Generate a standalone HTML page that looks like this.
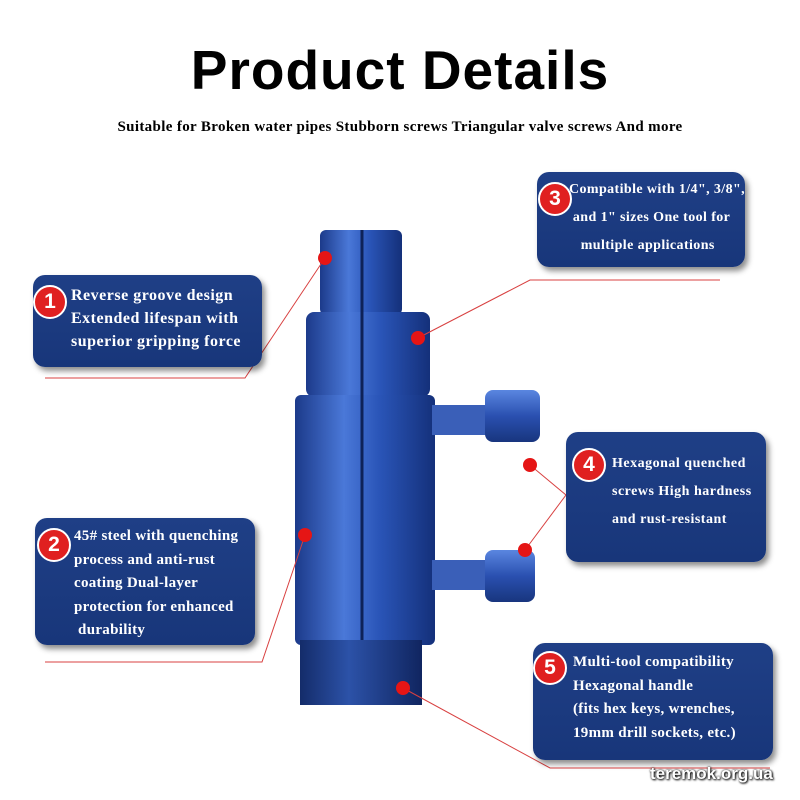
<!DOCTYPE html>
<html><head><meta charset="utf-8"><style>
body{margin:0;width:800px;height:800px;background:#fff;position:relative;overflow:hidden;font-family:"Liberation Serif",serif}
.t{position:absolute;left:0;width:800px;text-align:center;font-family:"Liberation Sans",sans-serif;font-weight:bold;font-size:55px;top:38px;letter-spacing:1px}
.s{position:absolute;left:0;width:800px;text-align:center;font-weight:bold;font-size:15px;letter-spacing:0.35px;top:119px}
.b{position:absolute;background:linear-gradient(#1f3f86,#18367a);border-radius:12px;box-shadow:3px 4px 6px rgba(0,0,0,.45);color:#fff;font-weight:bold;font-size:14px;line-height:23px;box-sizing:border-box;white-space:nowrap}
.n{position:absolute;width:30px;height:30px;border-radius:50%;background:#e02020;color:#fff;font-family:"Liberation Sans",sans-serif;font-weight:bold;font-size:21px;text-align:center;line-height:30px;border:2px solid #fff}
svg{position:absolute;left:0;top:0}
</style></head><body>
<div class="t">Product Details</div>
<div class="s">Suitable for Broken water pipes Stubborn screws Triangular valve screws And more</div>
<svg width="800" height="800">
<defs>
<linearGradient id="g" x1="0" x2="1"><stop offset="0" stop-color="#1c3a8a"/><stop offset=".35" stop-color="#4a78d8"/><stop offset=".6" stop-color="#2a55b8"/><stop offset="1" stop-color="#14307a"/></linearGradient>
<linearGradient id="h" x1="0" x2="1"><stop offset="0" stop-color="#142c6a"/><stop offset=".4" stop-color="#2c52a8"/><stop offset="1" stop-color="#102560"/></linearGradient>
<linearGradient id="v" x1="0" y1="0" x2="0" y2="1"><stop offset="0" stop-color="#5a86e0"/><stop offset=".5" stop-color="#2a50b0"/><stop offset="1" stop-color="#18357e"/></linearGradient>
</defs>
<rect x="320" y="230" width="82" height="85" rx="6" fill="url(#g)"/>
<rect x="306" y="312" width="124" height="85" rx="8" fill="url(#g)"/>
<rect x="295" y="395" width="140" height="250" rx="6" fill="url(#g)"/>
<line x1="362" y1="230" x2="362" y2="640" stroke="#0e2258" stroke-width="3"/>
<rect x="300" y="640" width="122" height="65" fill="url(#h)"/>
<rect x="432" y="405" width="60" height="30" fill="#3a5fb8"/>
<rect x="485" y="390" width="55" height="52" rx="8" fill="url(#v)"/>
<rect x="432" y="560" width="60" height="30" fill="#3a5fb8"/>
<rect x="485" y="550" width="50" height="52" rx="8" fill="url(#v)"/>
<g stroke="#d84040" stroke-width="1" fill="none">
<polyline points="325,258 245,378 45,378"/>
<polyline points="418,338 530,280 720,280"/>
<polyline points="530,465 566,495"/>
<polyline points="525,550 566,495"/>
<polyline points="305,535 262,662 45,662"/>
<polyline points="403,688 550,768 770,768"/>
</g>
<g fill="#e51515">
<circle cx="325" cy="258" r="7"/><circle cx="418" cy="338" r="7"/><circle cx="530" cy="465" r="7"/><circle cx="525" cy="550" r="7"/><circle cx="305" cy="535" r="7"/><circle cx="403" cy="688" r="7"/>
</g>
</svg>
<div class="b" style="left:33px;top:275px;width:229px;height:92px;padding:9px 0 0 38px;font-size:16px;letter-spacing:0.5px">Reverse groove design<br>Extended lifespan with<br>superior gripping force</div>
<div class="n" style="left:33px;top:285px">1</div>
<div class="b" style="left:537px;top:172px;width:208px;height:95px;padding:4px 0 0 32px;font-size:14px;letter-spacing:0.4px;line-height:28px">Compatible with 1/4", 3/8",<br>&nbsp;and 1" sizes One tool for<br>&nbsp;&nbsp;&nbsp;multiple applications</div>
<div class="n" style="left:538px;top:182px">3</div>
<div class="b" style="left:566px;top:432px;width:200px;height:130px;padding:18px 0 0 46px;font-size:14px;letter-spacing:0.5px;line-height:28px">Hexagonal quenched<br>screws High hardness<br>and rust-resistant</div>
<div class="n" style="left:572px;top:448px">4</div>
<div class="b" style="left:35px;top:518px;width:220px;height:127px;padding:7px 0 0 39px;font-size:15px;letter-spacing:0.3px;line-height:23.5px">45# steel with quenching<br>process and anti-rust<br>coating Dual-layer<br>protection for enhanced<br>&nbsp;durability</div>
<div class="n" style="left:37px;top:528px">2</div>
<div class="b" style="left:533px;top:643px;width:240px;height:117px;padding:8px 0 0 40px;font-size:15px;letter-spacing:0.3px;line-height:23.5px">Multi-tool compatibility<br>Hexagonal handle<br>(fits hex keys, wrenches,<br>19mm drill sockets, etc.)</div>
<div class="n" style="left:533px;top:651px">5</div>
<div style="position:absolute;left:650px;top:764px;font-family:'Liberation Sans',sans-serif;font-weight:bold;font-size:17px;color:#fff;text-shadow:0 0 2px #000,1px 1px 2px #000">teremok.org.ua</div>
</body></html>
